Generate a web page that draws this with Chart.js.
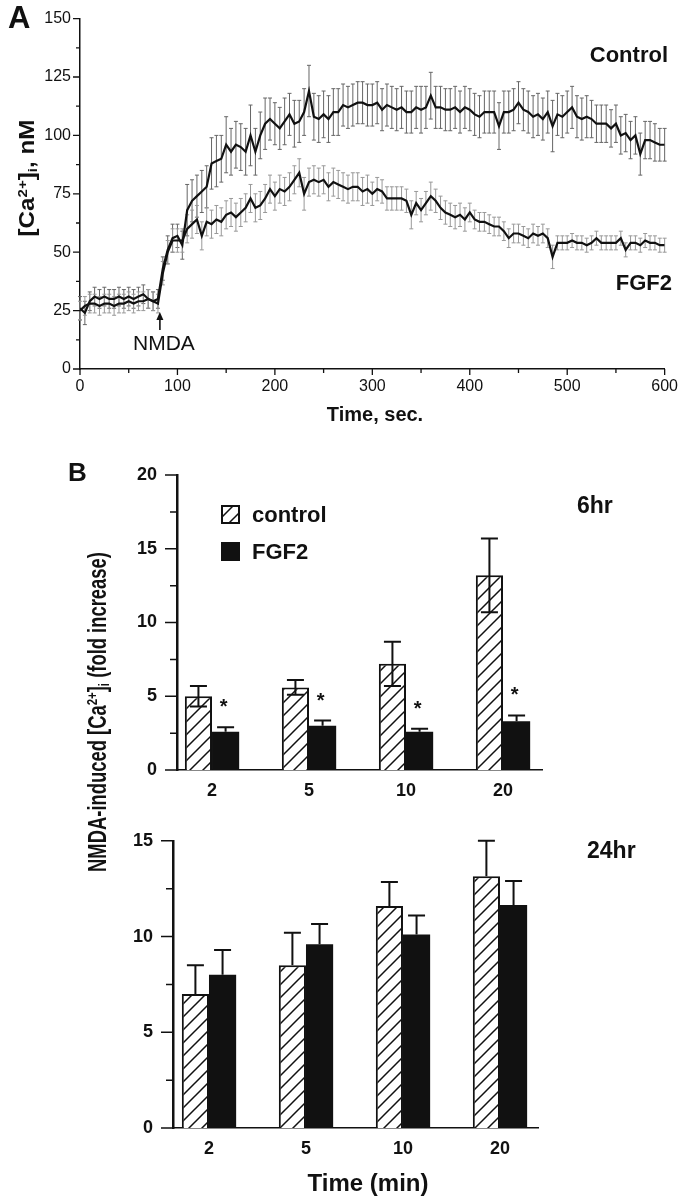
<!DOCTYPE html>
<html>
<head>
<meta charset="utf-8">
<script src="https://cdn.jsdelivr.net/npm/chart.js@4.4.1/dist/chart.umd.min.js"></script>
<style>
  html, body { margin: 0; padding: 0; background: #fff; }
  #page { position: relative; width: 686px; height: 1200px; overflow: hidden;
          font-family: 'Liberation Sans', Arial, Helvetica, sans-serif; color: #111; }
  canvas { position: absolute; left: 0; }
  .lbl { position: absolute; white-space: nowrap; font-weight: bold; line-height: 1; }
  .lbl sup { font-size: 62%; vertical-align: 0.55em; line-height: 0; }
  .lbl sub { font-size: 62%; vertical-align: -0.25em; line-height: 0; }
</style>
</head>
<body>
<div id="page">
  <canvas id="chartA" width="686" height="430" style="top:0"></canvas>
  <canvas id="chart6" width="686" height="370" style="top:440px"></canvas>
  <canvas id="chart24" width="686" height="390" style="top:810px"></canvas>

  <div class="lbl" style="left:8px;top:17px;font-size:31px;transform:translate(0,-50%)">A</div>
  <div class="lbl" style="left:668px;top:55px;font-size:22px;transform:translate(-100%,-50%)">Control</div>
  <div class="lbl" style="left:672px;top:283px;font-size:22px;transform:translate(-100%,-50%)">FGF2</div>
  <div class="lbl rot" data-len="117" style="left:27px;top:178px;font-size:22px">[Ca<sup>2+</sup>]<sub>i</sub>, nM</div>
  <div class="lbl" style="left:375px;top:414px;font-size:20px;transform:translate(-50%,-50%)">Time, sec.</div>

  <div class="lbl" style="left:68px;top:472px;font-size:26px;transform:translate(0,-50%)">B</div>
  <div class="lbl" style="left:577px;top:505px;font-size:23px;transform:translate(0,-50%)">6hr</div>
  <div class="lbl" style="left:587px;top:850px;font-size:23px;transform:translate(0,-50%)">24hr</div>
  <div class="lbl rot" data-len="320" style="left:97px;top:712px;font-size:25px">NMDA-induced [Ca<sup>2+</sup>]<sub>i</sub> (fold increase)</div>
  <div class="lbl" style="left:368px;top:1183px;font-size:24px;transform:translate(-50%,-50%)">Time (min)</div>
</div>

<script>
// ---- panel A: [Ca2+]i trace, sampled every 5 s ----
const timeSec = [
  0, 5, 10, 15, 20, 25, 30, 35, 40, 45,
  50, 55, 60, 65, 70, 75, 80, 85, 90, 95,
  100, 105, 110, 115, 120, 125, 130, 135, 140, 145,
  150, 155, 160, 165, 170, 175, 180, 185, 190, 195,
  200, 205, 210, 215, 220, 225, 230, 235, 240, 245,
  250, 255, 260, 265, 270, 275, 280, 285, 290, 295,
  300, 305, 310, 315, 320, 325, 330, 335, 340, 345,
  350, 355, 360, 365, 370, 375, 380, 385, 390, 395,
  400, 405, 410, 415, 420, 425, 430, 435, 440, 445,
  450, 455, 460, 465, 470, 475, 480, 485, 490, 495,
  500, 505, 510, 515, 520, 525, 530, 535, 540, 545,
  550, 555, 560, 565, 570, 575, 580, 585, 590, 595,
  600
];
const controlMean = [
  26, 24, 29, 31, 30, 31, 30, 30, 31, 30,
  31, 30, 31, 32, 30, 29, 30, 43, 51, 56,
  57, 53, 68, 72, 74, 76, 78, 88, 89, 90,
  96, 93, 96, 95, 93, 100, 93, 100, 105, 107,
  105, 103, 106, 109, 105, 106, 110, 119, 108, 107,
  109, 107, 110, 110, 113, 112, 113, 114, 114, 113,
  113, 114, 111, 113, 112, 111, 112, 110, 110, 112,
  111, 112, 117, 112, 112, 111, 111, 112, 110, 112,
  111, 109, 108, 110, 110, 110, 104, 110, 110, 111,
  114, 111, 110, 108, 109, 107, 110, 104, 109, 108,
  110, 112, 108, 107, 108, 107, 105, 105, 105, 103,
  105, 100, 101, 98, 100, 92, 98, 98, 97, 96,
  96
];
const controlSE = [
  5, 5, 4, 4, 4, 4, 4, 4, 4, 4,
  4, 4, 4, 4, 4, 4, 4, 5, 6, 6,
  5, 6, 11, 9, 9, 9, 9, 11, 11, 10,
  12, 10, 10, 10, 10, 13, 10, 10, 11, 9,
  9, 9, 10, 9, 10, 9, 10, 11, 10, 10,
  10, 10, 10, 10, 9, 9, 9, 9, 9, 9,
  9, 9, 9, 9, 9, 9, 9, 9, 9, 9,
  10, 9, 10, 9, 9, 9, 9, 9, 9, 9,
  9, 9, 9, 9, 9, 9, 10, 9, 9, 9,
  9, 9, 9, 9, 9, 9, 9, 11, 9, 9,
  9, 9, 9, 9, 9, 8, 8, 8, 8, 8,
  8, 8, 8, 8, 8, 9, 8, 8, 8, 7,
  7
];
const fgf2Mean = [
  25, 27, 28, 28, 27, 28, 28, 27, 28, 28,
  29, 28, 29, 29, 30, 29, 28, 41, 50, 55,
  55, 55, 60, 62, 64, 57, 63, 62, 64, 63,
  66, 67, 65, 67, 69, 73, 69, 70, 73, 77,
  74, 77, 76, 78, 81, 84, 75, 80, 81, 80,
  81, 78, 80, 79, 78, 77, 78, 78, 76, 77,
  75, 77, 76, 73, 73, 73, 73, 72, 66, 71,
  68, 71, 74, 72, 69, 67, 66, 65, 66, 64,
  67, 64, 63, 63, 62, 61, 61, 59, 56, 58,
  58, 57, 56, 58, 57, 58, 56, 48, 54, 54,
  54, 55, 54, 54, 53, 54, 56, 54, 54, 54,
  54, 56, 51, 54, 54, 53, 55, 54, 54, 53,
  53
];
const fgf2SE = [
  4, 4, 4, 4, 4, 4, 4, 4, 4, 4,
  4, 4, 4, 4, 4, 4, 4, 5, 5, 5,
  5, 5, 6, 6, 6, 6, 6, 6, 6, 6,
  6, 6, 6, 6, 6, 6, 6, 6, 6, 6,
  6, 6, 6, 6, 6, 6, 7, 6, 6, 6,
  6, 6, 6, 6, 6, 6, 6, 6, 6, 6,
  5, 5, 5, 5, 5, 5, 5, 5, 6, 5,
  5, 5, 6, 5, 5, 5, 5, 5, 5, 5,
  4, 4, 4, 4, 4, 4, 4, 4, 4, 4,
  4, 4, 4, 4, 4, 4, 4, 5, 3, 3,
  3, 3, 3, 3, 3, 3, 3, 3, 3, 3,
  3, 3, 3, 3, 3, 3, 3, 3, 3, 3,
  3
];
const nmdaTime = 82;

// ---- panel B: fold increase at 2/5/10/20 min ----
const minuteLabels = ['2', '5', '10', '20'];
const ctl6h = [5.0, 5.6, 7.2, 13.2];
const ctl6hSE = [0.7, 0.5, 1.5, 2.5];
const fgf6h = [2.6, 3.0, 2.6, 3.3];
const fgf6hSE = [0.3, 0.35, 0.2, 0.4];
const sig6h = [true, true, true, true];
const ctl24h = [7.0, 8.5, 11.6, 13.15];
const ctl24hSE = [1.5, 1.7, 1.25, 1.85];
const fgf24h = [8.0, 9.6, 10.1, 11.65];
const fgf24hSE = [1.3, 1.05, 1.0, 1.25];

const FONT = "'Liberation Sans', Arial, Helvetica, sans-serif";
Chart.defaults.font.family = FONT;
Chart.defaults.color = '#111';

// diagonal hatch used for the control bars
const hatchFill = (() => {
  const s = 13;
  const c = document.createElement('canvas');
  c.width = s; c.height = s;
  const g = c.getContext('2d');
  g.fillStyle = '#fff';
  g.fillRect(0, 0, s, s);
  g.strokeStyle = '#111';
  g.lineWidth = 1.5;
  g.beginPath();
  g.moveTo(-1, s + 1); g.lineTo(s + 1, -1);
  g.moveTo(-1, 1); g.lineTo(1, -1);
  g.moveTo(s - 1, s + 1); g.lineTo(s + 1, s - 1);
  g.stroke();
  return g.createPattern(c, 'repeat');
})();

// major/minor tick marks drawn outside the axes
const tickMarks = {
  id: 'tickMarks',
  afterDraw(chart, args, o) {
    const ctx = chart.ctx;
    ctx.save();
    ctx.strokeStyle = '#111';
    ['x', 'y'].forEach(id => {
      const m = o[id];
      if (!m) return;
      const s = chart.scales[id];
      ctx.lineWidth = m.width;
      const first = Math.ceil(s.min / m.minor - 1e-9);
      const last = Math.floor(s.max / m.minor + 1e-9);
      ctx.beginPath();
      for (let k = first; k <= last; k++) {
        const v = k * m.minor;
        const major = Math.abs(v / m.major - Math.round(v / m.major)) < 1e-6;
        const len = major ? m.majorLen : m.minorLen;
        const p = s.getPixelForValue(v);
        if (id === 'y') { ctx.moveTo(s.right, p); ctx.lineTo(s.right - len, p); }
        else { ctx.moveTo(p, s.top); ctx.lineTo(p, s.top + len); }
      }
      ctx.stroke();
    });
    ctx.restore();
  }
};

function drawErrors(chart) {
  const ctx = chart.ctx, y = chart.scales.y;
  chart.data.datasets.forEach((ds, di) => {
    if (!ds.errors) return;
    const meta = chart.getDatasetMeta(di);
    const half = ds.capWidth / 2;
    ctx.save();
    ctx.strokeStyle = ds.errorColor;
    ctx.lineWidth = ds.errorWidth;
    ctx.beginPath();
    meta.data.forEach((el, i) => {
      const v = ds.data[i].y, e = ds.errors[i];
      const hi = y.getPixelForValue(v + e);
      const lo = y.getPixelForValue(ds.errorDown ? v - e : v);
      ctx.moveTo(el.x, lo); ctx.lineTo(el.x, hi);
      ctx.moveTo(el.x - half, hi); ctx.lineTo(el.x + half, hi);
      if (ds.errorDown) { ctx.moveTo(el.x - half, lo); ctx.lineTo(el.x + half, lo); }
    });
    ctx.stroke();
    ctx.restore();
  });
}

const errorBars = {
  id: 'errorBars',
  beforeDatasetsDraw(chart, args, o) { if (!o.front) drawErrors(chart); },
  afterDatasetsDraw(chart, args, o) { if (o.front) drawErrors(chart); }
};

// NMDA arrow + label in panel A
const nmdaMark = {
  id: 'nmdaMark',
  afterDraw(chart, args, o) {
    const ctx = chart.ctx;
    const x = chart.scales.x.getPixelForValue(o.t);
    ctx.save();
    ctx.strokeStyle = '#111';
    ctx.fillStyle = '#111';
    ctx.lineWidth = 1.6;
    ctx.beginPath();
    ctx.moveTo(x, 330); ctx.lineTo(x, 318);
    ctx.stroke();
    ctx.beginPath();
    ctx.moveTo(x, 312); ctx.lineTo(x - 3.5, 320); ctx.lineTo(x + 3.5, 320);
    ctx.closePath();
    ctx.fill();
    ctx.font = '21px ' + FONT;
    ctx.textAlign = 'center';
    ctx.textBaseline = 'middle';
    ctx.fillText(o.label, x + 4, 344);
    ctx.restore();
  }
};

// legend drawn inside the 6 h panel from the dataset styles
const insideLegend = {
  id: 'insideLegend',
  afterDraw(chart, args, o) {
    if (!o.show) return;
    const ctx = chart.ctx;
    ctx.save();
    chart.data.datasets.forEach((ds, k) => {
      const y = o.y + k * o.gap;
      ctx.fillStyle = ds.backgroundColor;
      ctx.fillRect(o.x, y, o.box, o.box);
      ctx.strokeStyle = '#111';
      ctx.lineWidth = 2;
      ctx.strokeRect(o.x + 1, y + 1, o.box - 2, o.box - 2);
      ctx.fillStyle = '#111';
      ctx.font = 'bold 22px ' + FONT;
      ctx.textBaseline = 'middle';
      ctx.fillText(ds.label, o.x + 31, y + o.box / 2 + 1);
    });
    ctx.restore();
  }
};

const sigStars = {
  id: 'sigStars',
  afterDatasetsDraw(chart, args, o) {
    if (!o.flags) return;
    const ctx = chart.ctx, y = chart.scales.y;
    const ds = chart.data.datasets[o.dataset];
    const meta = chart.getDatasetMeta(o.dataset);
    ctx.save();
    ctx.fillStyle = '#111';
    ctx.font = 'bold 20px ' + FONT;
    ctx.textAlign = 'center';
    ctx.textBaseline = 'alphabetic';
    meta.data.forEach((el, i) => {
      if (!o.flags[i]) return;
      const top = y.getPixelForValue(ds.data[i].y + ds.errors[i]);
      ctx.fillText('*', el.x - 2, top - o.gap + 11);
    });
    ctx.restore();
  }
};

// ---- panel A ----
new Chart(document.getElementById('chartA'), {
  type: 'line',
  data: {
    datasets: [
      {
        label: 'Control',
        data: timeSec.map((t, i) => ({ x: t, y: controlMean[i] })),
        borderColor: '#111', borderWidth: 2.2, pointRadius: 0, tension: 0,
        errors: controlSE, errorDown: true, errorColor: '#666', errorWidth: 1, capWidth: 4
      },
      {
        label: 'FGF2',
        data: timeSec.map((t, i) => ({ x: t, y: fgf2Mean[i] })),
        borderColor: '#111', borderWidth: 2.2, pointRadius: 0, tension: 0,
        errors: fgf2SE, errorDown: true, errorColor: '#999', errorWidth: 1, capWidth: 4
      }
    ]
  },
  options: {
    responsive: false, animation: false, events: [],
    layout: { padding: { top: 16, right: 16, left: 0, bottom: 0 } },
    scales: {
      x: {
        type: 'linear', min: 0, max: 600,
        ticks: { stepSize: 100, padding: 8, font: { size: 16 } },
        grid: { display: false, drawTicks: false },
        border: { display: true, color: '#111', width: 1.5 },
        afterFit: s => { s.height = 61; }
      },
      y: {
        min: 0, max: 150,
        ticks: { stepSize: 25, padding: 9, font: { size: 16 } },
        grid: { display: false, drawTicks: false },
        border: { display: true, color: '#111', width: 1.5 },
        afterFit: s => { s.width = 80; }
      }
    },
    plugins: {
      legend: { display: false },
      tooltip: { enabled: false },
      errorBars: { front: false },
      tickMarks: {
        x: { major: 100, minor: 50, majorLen: 6, minorLen: 4, width: 1.3 },
        y: { major: 25, minor: 12.5, majorLen: 7, minorLen: 4, width: 1.3 }
      },
      nmdaMark: { t: nmdaTime, label: 'NMDA' }
    }
  },
  plugins: [errorBars, tickMarks, nmdaMark]
});

// ---- panel B ----
function makeBars(id, ctl, ctlErr, fgf, fgfErr, cfg) {
  return new Chart(document.getElementById(id), {
    type: 'bar',
    data: {
      datasets: [
        {
          label: 'control',
          data: minuteLabels.map((m, i) => ({ x: i, y: ctl[i] })),
          backgroundColor: hatchFill, borderColor: '#111', borderWidth: 2,
          categoryPercentage: 0.56, barPercentage: 1,
          errors: ctlErr, errorDown: cfg.ctlDown, errorColor: '#111', errorWidth: 2, capWidth: 17
        },
        {
          label: 'FGF2',
          data: minuteLabels.map((m, i) => ({ x: i, y: fgf[i] })),
          backgroundColor: '#111', borderColor: '#111', borderWidth: 0,
          categoryPercentage: 0.56, barPercentage: 1,
          errors: fgfErr, errorDown: false, errorColor: '#111', errorWidth: 2, capWidth: 17
        }
      ]
    },
    options: {
      responsive: false, animation: false, events: [],
      layout: { padding: { top: cfg.top, right: cfg.right, left: 0, bottom: 0 } },
      scales: {
        x: {
          type: 'linear', min: cfg.xMin, max: cfg.xMax, offset: false,
          afterBuildTicks: s => { s.ticks = minuteLabels.map((m, i) => ({ value: i })); },
          ticks: {
            callback: v => minuteLabels[Math.round(v)],
            padding: 10, autoSkip: false, maxRotation: 0,
            font: { size: 18, weight: 'bold' }
          },
          grid: { display: false, drawTicks: false },
          border: { display: true, color: '#111', width: 1.5 },
          afterFit: s => { s.height = cfg.xH; }
        },
        y: {
          min: 0, max: cfg.yMax,
          ticks: { stepSize: 5, padding: 20, font: { size: 18, weight: 'bold' } },
          grid: { display: false, drawTicks: false },
          border: { display: true, color: '#111', width: 2.5 },
          afterFit: s => { s.width = cfg.yW; }
        }
      },
      plugins: {
        legend: { display: false },
        tooltip: { enabled: false },
        errorBars: { front: true },
        tickMarks: { y: { major: 5, minor: 2.5, majorLen: 12, minorLen: 7, width: 1.5 } },
        insideLegend: cfg.legend || {},
        sigStars: cfg.stars || {}
      }
    },
    plugins: [errorBars, tickMarks, insideLegend, sigStars]
  });
}

makeBars('chart6', ctl6h, ctl6hSE, fgf6h, fgf6hSE, {
  top: 35, right: 144, xH: 40, yW: 177, yMax: 20, xMin: -0.361, xMax: 3.402, ctlDown: true,
  legend: { show: true, x: 221, y: 65, gap: 37, box: 19 },
  stars: { flags: sig6h, dataset: 1, gap: 25 }
});

makeBars('chart24', ctl24h, ctl24hSE, fgf24h, fgf24hSE, {
  top: 24, right: 148, xH: 72, yW: 173, yMax: 15, xMin: -0.371, xMax: 3.392, ctlDown: false
});

// rotated axis titles, fitted to the length they take in the figure
document.querySelectorAll('.rot').forEach(el => {
  const k = (+el.dataset.len) / el.offsetWidth;
  el.style.transform = 'translate(-50%,-50%) rotate(-90deg) scaleX(' + k.toFixed(3) + ')';
});
</script>
</body>
</html>
